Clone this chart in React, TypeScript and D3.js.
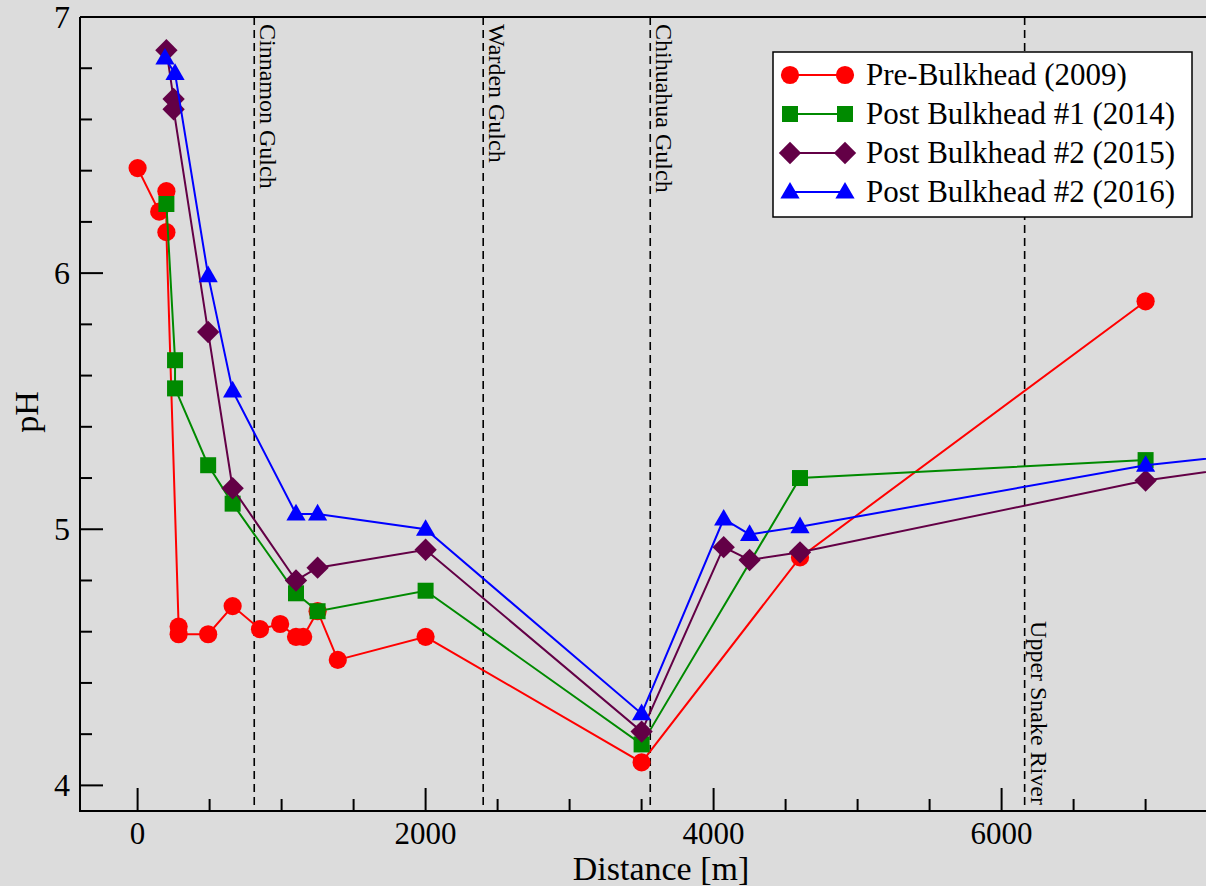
import React, { useRef, useEffect } from 'react';
import * as d3 from 'd3';

// pH along the stream
const preDist = [0, 150, 200, 200, 285, 285, 490, 660, 850, 990, 1100, 1150, 1250, 1390, 2000, 3500, 4600, 7000];
const preVal = [6.41, 6.24, 6.32, 6.16, 4.62, 4.59, 4.59, 4.7, 4.61, 4.63, 4.58, 4.58, 4.68, 4.49, 4.58, 4.09, 4.89, 5.89];

const post1Dist = [200, 260, 260, 490, 660, 1100, 1250, 2000, 3500, 4600, 7000];
const post1Val = [6.27, 5.66, 5.55, 5.25, 5.1, 4.75, 4.68, 4.76, 4.16, 5.2, 5.27];

const post2Dist = [200, 250, 250, 490, 660, 1100, 1250, 2000, 3500, 4070, 4250, 4600, 7000, 8000];
const post2Val = [6.87, 6.68, 6.64, 5.77, 5.16, 4.8, 4.85, 4.92, 4.21, 4.93, 4.88, 4.91, 5.19, 5.27];

const post3Dist = [190, 260, 490, 660, 1100, 1250, 2000, 3500, 4070, 4250, 4600, 7000, 8000];
const post3Val = [6.84, 6.78, 5.99, 5.54, 5.06, 5.06, 5.0, 4.28, 5.04, 4.98, 5.01, 5.25, 5.31];

const seriesNames = ['Pre-Bulkhead (2009)', 'Post Bulkhead #1 (2014)', 'Post Bulkhead #2 (2015)', 'Post Bulkhead #2 (2016)'];

const landmarkNames = ['Cinnamon Gulch', 'Warden Gulch', 'Chihuahua Gulch', 'Upper Snake River'];
const landmarkDist = [810, 2400, 3560, 6160];

const xTicks = [0, 2000, 4000, 6000];
const yTicks = [4, 5, 6, 7];

const FONT = '"Liberation Serif", "DejaVu Serif", serif';

const App = () => {
  const svgRef = useRef<SVGSVGElement>(null);

  useEffect(() => {
    const W = 1206;
    const H = 886;
    const svg = d3.select(svgRef.current);
    svg.selectAll('*').remove();

    const left = 80, top = 17, bottom = 811;
    const x = d3.scaleLinear().domain([-400, 8000]).range([left, left + 8400 * 0.144]);
    const y = d3.scaleLinear().domain([3.9, 7]).range([bottom, top]);

    svg.append('rect').attr('width', W).attr('height', H).attr('fill', '#dcdcdc');

    svg.append('defs').append('clipPath').attr('id', 'plotclip')
      .append('rect').attr('x', left).attr('y', top).attr('width', W - left).attr('height', bottom - top);

    // landmark dashed lines
    const lm = svg.append('g');
    landmarkNames.forEach((name, i) => {
      const lx = x(landmarkDist[i]);
      lm.append('line')
        .attr('x1', lx).attr('x2', lx).attr('y1', top).attr('y2', bottom)
        .attr('stroke', '#000').attr('stroke-width', 1.6).attr('stroke-dasharray', '8,5');
      const atBottom = i === landmarkNames.length - 1;
      const ty = atBottom ? bottom - 6 : top + 7;
      lm.append('text')
        .attr('transform', `translate(${lx + 6},${ty}) rotate(90)`)
        .attr('text-anchor', atBottom ? 'end' : 'start')
        .attr('font-family', FONT).attr('font-size', 24)
        .text(name);
    });

    // series
    const series = [
      { dist: preDist, val: preVal, color: '#ff0000', shape: 'circle' },
      { dist: post1Dist, val: post1Val, color: '#008a00', shape: 'square' },
      { dist: post2Dist, val: post2Val, color: '#630046', shape: 'diamond' },
      { dist: post3Dist, val: post3Val, color: '#0000ff', shape: 'triangle' }
    ];

    const symbolFor = (shape: string) => {
      if (shape === 'circle') return d3.symbol(d3.symbolCircle, 260);
      if (shape === 'square') return d3.symbol(d3.symbolSquare, 256);
      if (shape === 'diamond') return d3.symbol(d3.symbolSquare, 250);
      return d3.symbol(d3.symbolTriangle, 160);
    };
    const rot = (shape: string) => (shape === 'diamond' ? ' rotate(45)' : '');

    const plot = svg.append('g').attr('clip-path', 'url(#plotclip)');

    series.forEach(s => {
      const pts = s.dist.map((d, i) => [x(d), y(s.val[i])] as [number, number]);
      plot.append('path')
        .attr('d', d3.line()(pts))
        .attr('fill', 'none').attr('stroke', s.color).attr('stroke-width', 2);
      const sym = symbolFor(s.shape);
      plot.selectAll(null)
        .data(pts)
        .enter()
        .append('path')
        .attr('d', sym())
        .attr('transform', d => `translate(${d[0]},${d[1] + (s.shape === 'triangle' ? 1 : 0)})${rot(s.shape)}`)
        .attr('fill', s.color);
    });

    // axes frame
    svg.append('line').attr('x1', left).attr('x2', W).attr('y1', top).attr('y2', top)
      .attr('stroke', '#000').attr('stroke-width', 2);
    svg.append('line').attr('x1', left).attr('x2', left).attr('y1', top).attr('y2', bottom + 1)
      .attr('stroke', '#000').attr('stroke-width', 2);
    svg.append('line').attr('x1', left - 1).attr('x2', W).attr('y1', bottom).attr('y2', bottom)
      .attr('stroke', '#000').attr('stroke-width', 2);

    const ax = svg.append('g');
    // x ticks
    d3.range(0, 8001, 500).forEach(t => {
      const major = t % 2000 === 0;
      const px = x(t);
      if (px > W) return;
      ax.append('line').attr('x1', px).attr('x2', px).attr('y1', bottom).attr('y2', bottom - (major ? 23 : 12))
        .attr('stroke', '#000').attr('stroke-width', 2);
    });
    xTicks.forEach(t => {
      ax.append('text').attr('x', x(t)).attr('y', 844).attr('text-anchor', 'middle')
        .attr('font-family', FONT).attr('font-size', 31).text(String(t));
    });
    // y ticks
    d3.range(4, 7.001, 0.2).forEach(t => {
      const major = Math.abs(t - Math.round(t)) < 1e-6;
      ax.append('line').attr('x1', left).attr('x2', left + (major ? 23 : 12)).attr('y1', y(t)).attr('y2', y(t))
        .attr('stroke', '#000').attr('stroke-width', 2);
    });
    yTicks.forEach(t => {
      ax.append('text').attr('x', 70).attr('y', y(t) + 11).attr('text-anchor', 'end')
        .attr('font-family', FONT).attr('font-size', 32).text(String(t));
    });

    ax.append('text').attr('x', 661).attr('y', 880).attr('text-anchor', 'middle')
      .attr('font-family', FONT).attr('font-size', 34).text('Distance [m]');
    ax.append('text').attr('transform', 'translate(38,412) rotate(-90)').attr('text-anchor', 'middle')
      .attr('font-family', FONT).attr('font-size', 34).text('pH');

    // legend
    const lg = svg.append('g');
    lg.append('rect').attr('x', 773).attr('y', 52).attr('width', 419).attr('height', 165)
      .attr('fill', '#fff').attr('stroke', '#000').attr('stroke-width', 1.5);
    series.forEach((s, i) => {
      const ly = 75 + i * 39;
      lg.append('line').attr('x1', 790).attr('x2', 845).attr('y1', ly).attr('y2', ly)
        .attr('stroke', s.color).attr('stroke-width', 2);
      const sym = symbolFor(s.shape);
      [790, 845].forEach(mx => {
        lg.append('path').attr('d', sym())
          .attr('transform', `translate(${mx},${ly + (s.shape === 'triangle' ? 1 : 0)})${rot(s.shape)}`)
          .attr('fill', s.color);
      });
      lg.append('text').attr('x', 866).attr('y', ly + 10)
        .attr('font-family', FONT).attr('font-size', 31).text(seriesNames[i]);
    });
  }, []);

  return (
    <svg ref={svgRef} width={1206} height={886} style={{ position: 'absolute', left: 0, top: 0 }}></svg>
  );
};

export default App;
